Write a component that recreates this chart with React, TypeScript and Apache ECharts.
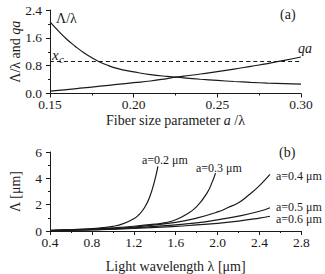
import React, { useEffect, useRef } from "react";
import * as echarts from "echarts";

// ---- Panel (a) data ----
const aX = [0.15, 0.155, 0.16, 0.165, 0.17, 0.175, 0.18, 0.185, 0.19, 0.195, 0.2, 0.21, 0.22, 0.225, 0.23, 0.24, 0.25, 0.26, 0.27, 0.28, 0.29, 0.3];
const periodRatio = [2.06, 1.8, 1.56, 1.36, 1.18, 1.03, 0.9, 0.8, 0.72, 0.665, 0.62, 0.545, 0.49, 0.47, 0.45, 0.41, 0.375, 0.345, 0.32, 0.3, 0.285, 0.27];
const qaX = [0.15, 0.16, 0.17, 0.18, 0.19, 0.2, 0.21, 0.22, 0.225, 0.23, 0.24, 0.25, 0.26, 0.27, 0.28, 0.29, 0.3];
const qaVals = [0.07, 0.11, 0.16, 0.21, 0.26, 0.31, 0.36, 0.43, 0.47, 0.5, 0.56, 0.63, 0.7, 0.78, 0.86, 0.95, 1.05];
const xcX = [0.15, 0.3];
const xcVals = [0.92, 0.92];
const aTicksX = ["0.15", "0.20", "0.25", "0.30"];

// ---- Panel (b) data ----
const lam02 = [0.4, 0.6, 0.8, 0.9, 1.0, 1.1, 1.2, 1.25, 1.3, 1.35, 1.4, 1.43];
const per02 = [0.04, 0.1, 0.18, 0.25, 0.35, 0.56, 0.93, 1.25, 1.75, 2.55, 3.85, 4.9];
const lam03 = [0.4, 0.8, 1.0, 1.2, 1.4, 1.5, 1.6, 1.7, 1.8, 1.9, 1.95, 1.98];
const per03 = [0.03, 0.15, 0.24, 0.36, 0.52, 0.63, 0.85, 1.25, 1.85, 2.9, 3.75, 4.4];
const lamLong = [0.4, 0.8, 1.2, 1.6, 1.8, 2.0, 2.1, 2.2, 2.3, 2.4, 2.5];
const per04 = [0.03, 0.12, 0.3, 0.65, 0.98, 1.45, 1.78, 2.15, 2.75, 3.45, 4.3];
const lamB = [0.4, 0.8, 1.2, 1.6, 1.8, 2.0, 2.2, 2.4, 2.5];
const per05 = [0.03, 0.1, 0.23, 0.47, 0.62, 0.85, 1.13, 1.5, 1.77];
const per06 = [0.03, 0.09, 0.19, 0.35, 0.46, 0.58, 0.75, 0.98, 1.12];
const curveLabels = ["a=0.2 μm", "a=0.3 μm", "a=0.4 μm", "a=0.5 μm", "a=0.6 μm"];

const zip = (xs: number[], ys: number[]) => xs.map((x, i) => [x, ys[i]]);

const FONT = "'Times New Roman', 'Liberation Serif', 'DejaVu Serif', serif";
const INK = "#1a1a1a";

export default function App() {
  const ref = useRef<HTMLDivElement>(null);
  useEffect(() => {
    if (!ref.current) return;
    const chart = echarts.init(ref.current, undefined, { renderer: "svg" });
    const axisCommon = {
      axisLine: { show: true, onZero: false, lineStyle: { color: INK, width: 1 } },
      axisTick: { show: true, inside: false, length: 4, lineStyle: { color: INK } },
      minorTick: { show: true, splitNumber: 2, length: 2, lineStyle: { color: INK } },
      splitLine: { show: false },
      nameMoveOverlap: false,
      nameTextStyle: { color: INK, fontFamily: FONT, fontSize: 14 },
    };
    const xLabel = { color: INK, fontFamily: FONT, fontSize: 13.5, margin: 4 };
    const yLabel = { color: INK, fontFamily: FONT, fontSize: 13.5, margin: 8 };
    const lineS = (xi: number, data: number[][], dashed = false) => ({
      type: "line",
      xAxisIndex: xi,
      yAxisIndex: xi,
      data,
      showSymbol: false,
      smooth: true,
      z: 1,
      lineStyle: { color: INK, width: 1.2, type: dashed ? [4, 3] : "solid" },
    });
    const txt = (x: number, y: number, text: string, size = 12, style = "") => ({
      type: "text",
      x,
      y,
      z: 100,
      style: { text, fill: INK, font: `${style}${size}px ${FONT}`, textVerticalAlign: "middle" },
    });
    const italicRich = { i: { fontStyle: "italic", fontFamily: FONT, fontSize: 14, color: INK } };
    chart.setOption({
      animation: false,
      backgroundColor: "#fff",
      grid: [
        { left: 48, top: 10, width: 253, height: 83.5 },
        { left: 48, top: 152, width: 253.4, height: 82.7 },
      ],
      xAxis: [
        {
          ...axisCommon,
          type: "value",
          gridIndex: 0,
          min: 0.15,
          max: 0.3,
          interval: 0.05,
          axisLabel: { ...xLabel, formatter: (v: number) => aTicksX.find((t) => Math.abs(parseFloat(t) - v) < 1e-6) ?? "" },
          name: "Fiber size parameter {i|a} /λ",
          nameLocation: "middle",
          nameGap: 19.5,
          nameTextStyle: { ...axisCommon.nameTextStyle, rich: italicRich },
        },
        {
          ...axisCommon,
          type: "value",
          gridIndex: 1,
          min: 0.4,
          max: 2.8,
          interval: 0.4,
          axisLabel: { ...xLabel, formatter: (v: number) => v.toFixed(1) },
          name: "Light wavelength λ [μm]",
          nameLocation: "middle",
          nameGap: 28,
        },
      ],
      yAxis: [
        {
          ...axisCommon,
          type: "value",
          gridIndex: 0,
          min: 0,
          max: 2.4,
          interval: 0.8,
          axisLabel: { ...yLabel, formatter: (v: number) => v.toFixed(1) },
          name: "Λ/λ and {i|qa}",
          nameLocation: "middle",
          nameGap: 28,
          nameTextStyle: { ...axisCommon.nameTextStyle, rich: italicRich },
        },
        {
          ...axisCommon,
          type: "value",
          gridIndex: 1,
          min: 0,
          max: 6,
          interval: 2,
          axisLabel: { ...yLabel, formatter: (v: number) => String(v) },
          name: "Λ [μm]",
          nameLocation: "middle",
          nameGap: 28,
        },
      ],
      series: [
        lineS(0, zip(aX, periodRatio)),
        lineS(0, zip(qaX, qaVals)),
        lineS(0, zip(xcX, xcVals), true),
        lineS(1, zip(lam02, per02)),
        lineS(1, zip(lam03, per03)),
        lineS(1, zip(lamLong, per04)),
        lineS(1, zip(lamB, per05)),
        lineS(1, zip(lamB, per06)),
      ],
      graphic: [
        txt(56, 18, "Λ/λ", 14),
        txt(280, 14, "(a)", 14),
        txt(52, 55, "x", 15, "italic "),
        txt(59, 59, "c", 11, "italic "),
        txt(298, 48, "qa", 14, "italic "),
        txt(279, 152, "(b)", 14),
        txt(142, 160, curveLabels[0]),
        txt(196, 168, curveLabels[1]),
        txt(276, 176, curveLabels[2]),
        txt(276, 206.5, curveLabels[3]),
        txt(276, 219, curveLabels[4]),
      ],
    });
    return () => chart.dispose();
  }, []);
  return <div ref={ref} style={{ position: "fixed", left: 0, top: 0, width: 325, height: 274, background: "#fff" }} />;
}
